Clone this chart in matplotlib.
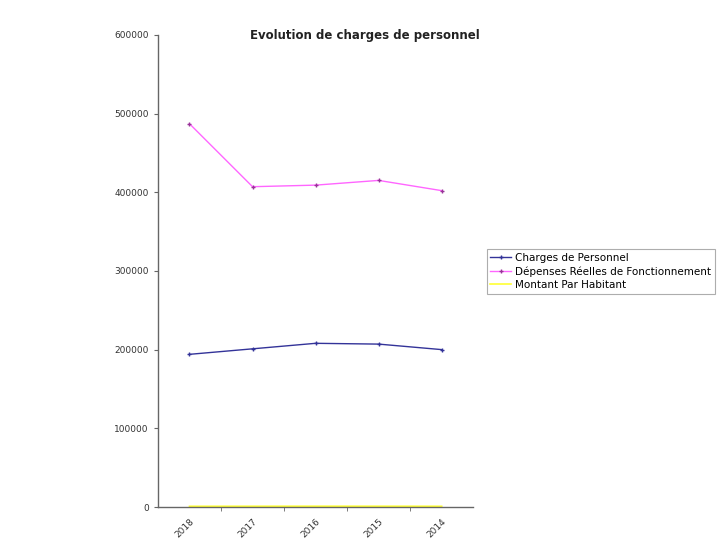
import matplotlib.pyplot as plt
import numpy as np

years = ["2018", "2017", "2016", "2015", "2014"]
charges_personnel = [194000, 201000, 208000, 207000, 200000]
depenses_reelles = [487000, 407000, 409000, 415000, 402000]
montant_par_habitant = [900, 950, 1000, 980, 920]

fig = plt.figure(figsize=(7.23, 5.44), dpi=100)
ax = fig.add_axes([0.2185, 0.068, 0.436, 0.868])

x = np.arange(len(years))
ax.plot(x, charges_personnel, color="#333399", lw=1, marker="+", ms=3.5, mew=1,
        label="Charges de Personnel")
ax.plot(x, depenses_reelles, color="#FF66FF", lw=1, marker="+", ms=3.5, mew=1,
        markeredgecolor="#993399", label="Dépenses Réelles de Fonctionnement")
ax.plot(x, montant_par_habitant, color="#FFFF33", lw=1.2,
        label="Montant Par Habitant")

ax.set_xlim(-0.5, len(years) - 0.5)
ax.set_ylim(0, 600000)
ax.set_yticks(np.arange(0, 600001, 100000))
ax.set_xticks(x)
ax.set_xticklabels(years, rotation=45, ha="right", rotation_mode="anchor")
ax.set_xticks(np.arange(0.5, len(years) - 0.5, 1), minor=True)
ax.tick_params(axis="x", which="major", length=0, labelsize=6.5, colors="#333333", pad=7)
ax.tick_params(axis="x", which="minor", length=3, color="#666666")
ax.tick_params(axis="y", length=3, labelsize=6.5, colors="#333333", color="#666666")

for side in ["top", "right"]:
    ax.spines[side].set_visible(False)
for side in ["left", "bottom"]:
    ax.spines[side].set_color("#666666")
    ax.spines[side].set_linewidth(1)

fig.text(0.505, 0.935, "Evolution de charges de personnel", ha="center", va="center",
         fontsize=8.5, fontweight="bold", color="#222222")

leg = fig.legend(loc="upper left", bbox_to_anchor=(0.666, 0.551), fontsize=7.5,
                 frameon=True, fancybox=False, handlelength=2, borderpad=0.35,
                 labelspacing=0.3, handletextpad=0.4)
leg.get_frame().set_edgecolor("#999999")
leg.get_frame().set_linewidth(0.8)

fig.savefig("out.png", dpi=100)
